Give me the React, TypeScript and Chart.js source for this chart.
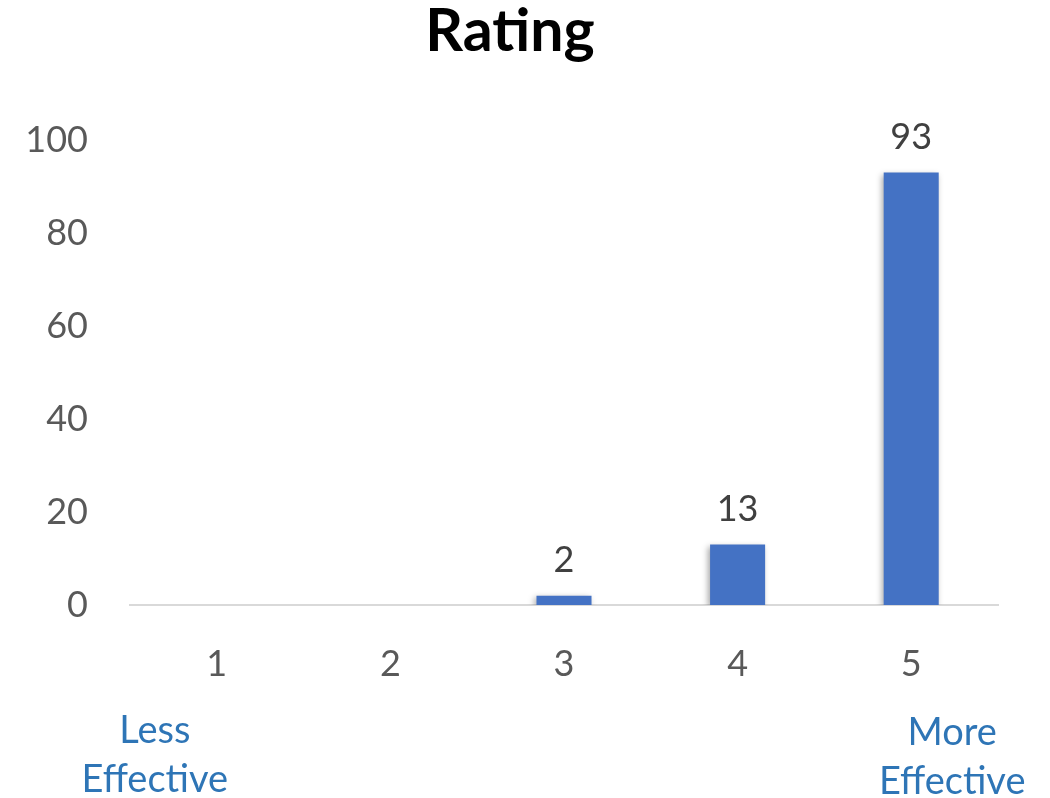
import React, { useEffect, useRef } from "react";
import { Chart, registerables } from "chart.js";

Chart.register(...registerables);

const categories = ["1", "2", "3", "4", "5"];
const counts = [0, 0, 2, 13, 93];
const yTicks = [0, 20, 40, 60, 80, 100];
const chartTitle = "Rating";
const lowNote = ["Less", "Effective"];
const highNote = ["More", "Effective"];

const FONT = "Lato, 'Open Sans', sans-serif";
const BAR_BLUE = "#4472C4";
const NOTE_BLUE = "#2E75B6";

// Bold title centred over the page
const titleText = {
  id: "titleText",
  afterDraw(chart: any) {
    const { ctx } = chart;
    ctx.save();
    ctx.font = `bold 59px ${FONT}`;
    ctx.fillStyle = "#000000";
    ctx.textAlign = "center";
    ctx.textBaseline = "middle";
    ctx.fillText(chartTitle, 510, 32);
    ctx.restore();
  },
};

// Value labels above the non-empty bars
const valueLabels = {
  id: "valueLabels",
  afterDatasetsDraw(chart: any) {
    const { ctx } = chart;
    const meta = chart.getDatasetMeta(0);
    ctx.save();
    ctx.font = `36px ${FONT}`;
    ctx.fillStyle = "#404040";
    ctx.textAlign = "center";
    ctx.textBaseline = "bottom";
    meta.data.forEach((bar: any, i: number) => {
      const v = counts[i];
      if (!v) return;
      ctx.fillText(String(v), bar.x, bar.y - 17);
    });
    ctx.restore();
  },
};

// Scale end notes under the first and last categories
const endNotes = {
  id: "endNotes",
  afterDraw(chart: any) {
    const { ctx } = chart;
    const x = chart.scales.x;
    ctx.save();
    ctx.font = `38px ${FONT}`;
    ctx.fillStyle = NOTE_BLUE;
    ctx.textAlign = "center";
    ctx.textBaseline = "middle";
    const lx = x.getPixelForValue(0) - 62;
    const rx = x.getPixelForValue(categories.length - 1) + 41;
    lowNote.forEach((t, i) => ctx.fillText(t, lx, 731 + i * 49));
    highNote.forEach((t, i) => ctx.fillText(t, rx, 733 + i * 49));
    ctx.restore();
  },
};

// Soft drop shadow behind the bars
const barShadow = {
  id: "barShadow",
  beforeDatasetsDraw(chart: any) {
    const { ctx } = chart;
    ctx.save();
    ctx.shadowColor = "rgba(0,0,0,0.35)";
    ctx.shadowBlur = 6;
    ctx.shadowOffsetX = -2;
    ctx.shadowOffsetY = 2;
  },
  afterDatasetsDraw(chart: any) {
    chart.ctx.restore();
  },
};

export default function App() {
  const canvasRef = useRef<HTMLCanvasElement | null>(null);

  useEffect(() => {
    document.body.style.margin = "0";
    const canvas = canvasRef.current;
    if (!canvas) return;
    const chart = new Chart(canvas, {
      type: "bar",
      data: {
        labels: categories,
        datasets: [
          {
            data: counts,
            backgroundColor: BAR_BLUE,
            categoryPercentage: 1,
            barPercentage: 0.317,
          },
        ],
      },
      options: {
        animation: false,
        responsive: false,
        maintainAspectRatio: false,
        layout: { padding: { top: 140, left: 0, right: 52, bottom: 0 } },
        plugins: {
          legend: { display: false },
          tooltip: { enabled: false },
          title: { display: false },
        },
        scales: {
          x: {
            grid: { display: false, drawTicks: false },
            border: { display: true, color: "#D9D9D9", width: 2 },
            ticks: {
              color: "#595959",
              font: { family: FONT, size: 36 },
              padding: 38,
            },
            afterFit(scale: any) {
              scale.height = 193;
            },
          },
          y: {
            min: 0,
            max: 100,
            afterBuildTicks(scale: any) {
              scale.ticks = yTicks.map((v) => ({ value: v }));
            },
            grid: { display: false, drawTicks: false },
            border: { display: false },
            ticks: {
              color: "#595959",
              font: { family: FONT, size: 36 },
              padding: 42,
            },
            afterFit(scale: any) {
              scale.width = 130;
            },
          },
        },
      },
      plugins: [barShadow, valueLabels, endNotes, titleText],
    });
    return () => chart.destroy();
  }, []);

  return <canvas ref={canvasRef} width={1050} height={798} style={{ display: "block" }} />;
}
